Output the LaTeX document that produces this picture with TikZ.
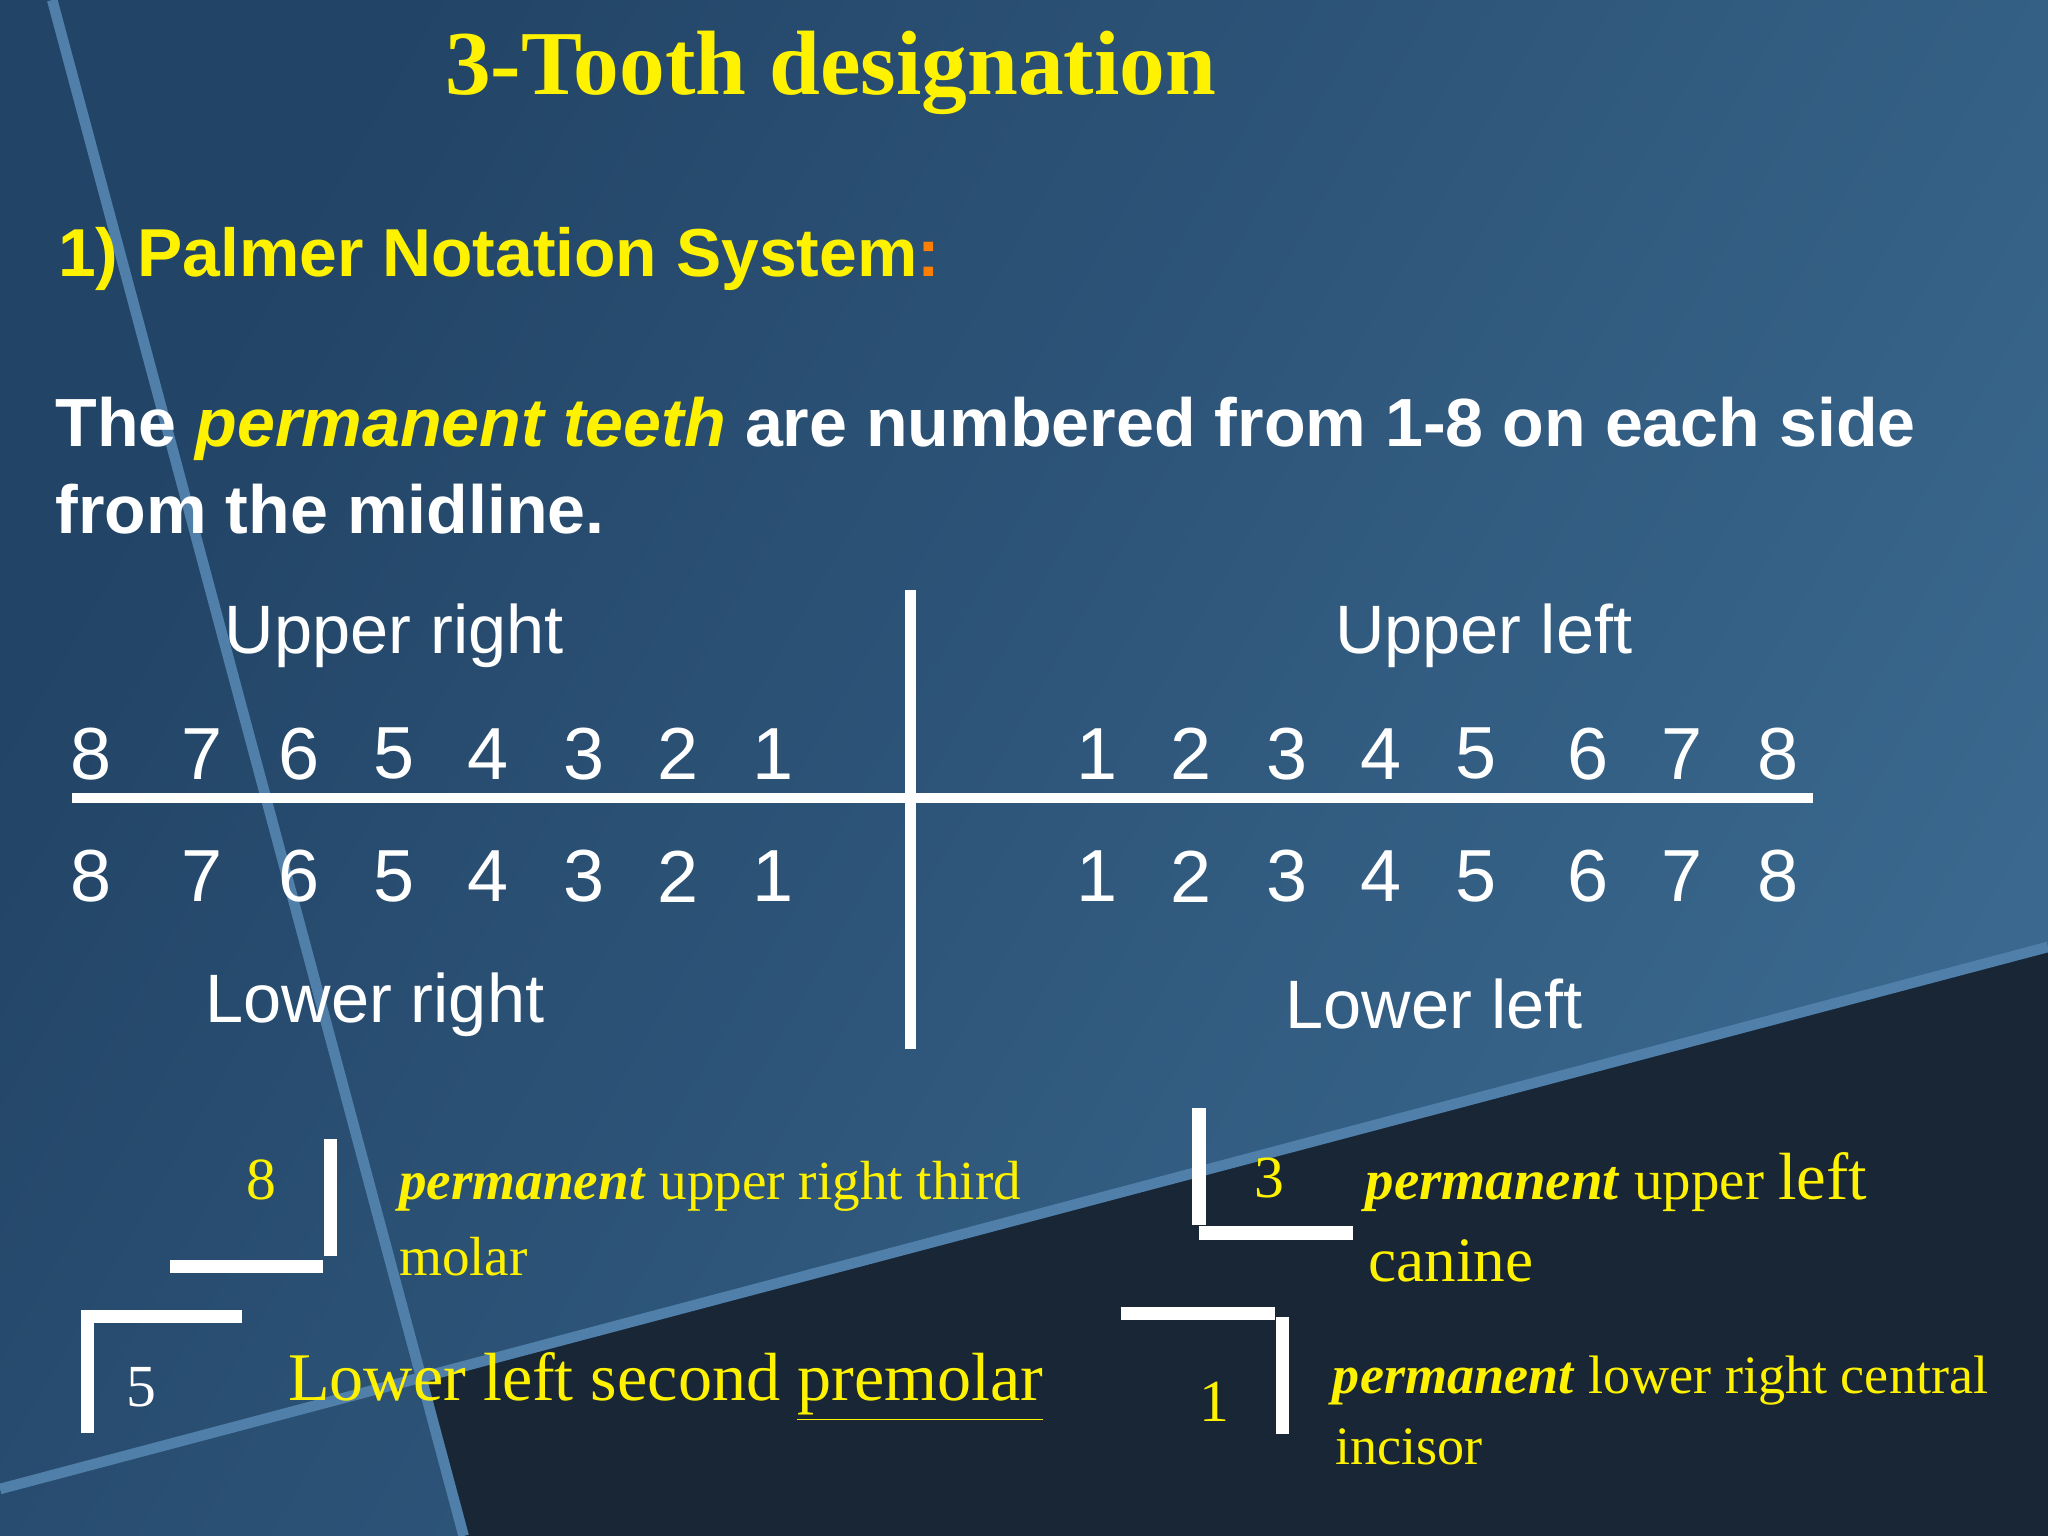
\documentclass[tikz,border=0pt]{standalone}
\usepackage{fontspec}
\setmainfont{Liberation Serif}
\setsansfont{Liberation Sans}
\begin{document}
\begin{tikzpicture}[x=0.013061cm,y=-0.013061cm,
  bar/.style={white,line width=10*0.3714pt},
  num/.style={font=\sffamily\fontsize{21}{24}\selectfont,text=white},
  lab/.style={font=\sffamily\fontsize{19.5}{24}\selectfont,text=white},
  yt/.style={text=yellow,anchor=west,inner sep=0pt}]
\definecolor{bgA}{RGB}{34,68,102}\definecolor{bgB}{RGB}{58,104,142}
\definecolor{dk}{RGB}{24,38,54}\definecolor{stripe}{RGB}{80,128,170}
\useasboundingbox (0,0) rectangle (1568,1176);
\shade[top color=bgA,bottom color=bgB,shading angle=60] (0,0) rectangle (1568,1176);
\fill[dk] (323,1055) -- (1568,725) -- (1568,1176) -- (355,1176) -- cycle;
\draw[stripe,line width=3] (40,0) -- (355,1176);
\draw[stripe,line width=3] (0,1140) -- (1568,725);
% title
\node[font=\bfseries\fontsize{26}{30}\selectfont,text=yellow] (title) at (636,56) {3-Tooth designation};
\node[anchor=west,inner sep=0pt,font=\sffamily\bfseries\fontsize{19.3}{22}\selectfont,text=yellow] (h) at (44,198) {1) Palmer Notation System\textcolor{orange}{:}};
\node[anchor=west,inner sep=0pt,font=\sffamily\bfseries\fontsize{19.4}{22}\selectfont,text=white] (b1) at (42,328) {The \textcolor{yellow}{\itshape permanent teeth} are numbered from 1-8 on each side};
\node[anchor=west,inner sep=0pt,font=\sffamily\bfseries\fontsize{19.4}{22}\selectfont,text=white] (b2) at (42,390) {from the midline.};
% cross
\draw[white,line width=7*0.3714pt] (55,611) coordinate (hl) -- (1388,611) coordinate (hr);
\draw[white,line width=8*0.3714pt] (697,452) coordinate (vt) -- (697,803) coordinate (vb);
\node[lab] (ur) at (302,487) {Upper right};
\node[lab] (ul) at (1136,487) {Upper left};
\node[lab] (lr) at (287,769) {Lower right};
\node[lab] (ll) at (1098,769) {Lower left};
\foreach \x/\n in {70/8,155/7,229/6,302/5,374/4,447/3,519/2,592/1,840/1,912/2,985/3,1057/4,1130/5,1216/6,1288/7,1361/8}{
  \node[num] (u\x) at (\x,577) {\n};
  \node[num] (l\x) at (\x,671) {\n};
}
% examples
\draw[bar] (253,872) -- (253,962);
\draw[bar] (130,970) -- (247,970);
\node[text=yellow,font=\fontsize{17}{20}\selectfont] (e8) at (200,903) {8};
\node[yt,font=\fontsize{15.7}{18}\selectfont] (t8a) at (305,908) {\textbf{\itshape permanent} upper right third};
\node[yt,font=\fontsize{15.7}{18}\selectfont] (t8b) at (305,962) {molar};
\draw[bar] (918,848) -- (918,938);
\draw[bar] (918,944) -- (1036,944);
\node[text=yellow,font=\fontsize{17}{20}\selectfont] (e3) at (972,902) {3};
\node[yt,font=\fontsize{16.2}{20}\selectfont] (t3a) at (1045,905) {\textbf{\itshape permanent} upper {\fontsize{19}{20}\selectfont left}};
\node[yt,font=\fontsize{18}{20}\selectfont] (t3b) at (1047,965) {canine};
\draw[bar] (67,1005) -- (67,1097);
\draw[bar] (62,1008) -- (185,1008);
\node[text=white,font=\fontsize{17}{20}\selectfont] (e5) at (108,1062) {5};
\node[yt,font=\fontsize{19.4}{22}\selectfont] (t5) at (220,1062) {Lower left second \underline{premolar}};
\draw[bar] (982,1008) -- (982,1098);
\draw[bar] (858,1006) -- (976,1006);
\node[text=yellow,font=\fontsize{17}{20}\selectfont] (e1) at (930,1073) {1};
\node[yt,font=\fontsize{15.4}{18}\selectfont] (t1a) at (1020,1057) {\textbf{\itshape permanent} lower right central};
\node[yt,font=\fontsize{15.4}{18}\selectfont] (t1b) at (1022,1108) {incisor};
\end{tikzpicture}
\end{document}
